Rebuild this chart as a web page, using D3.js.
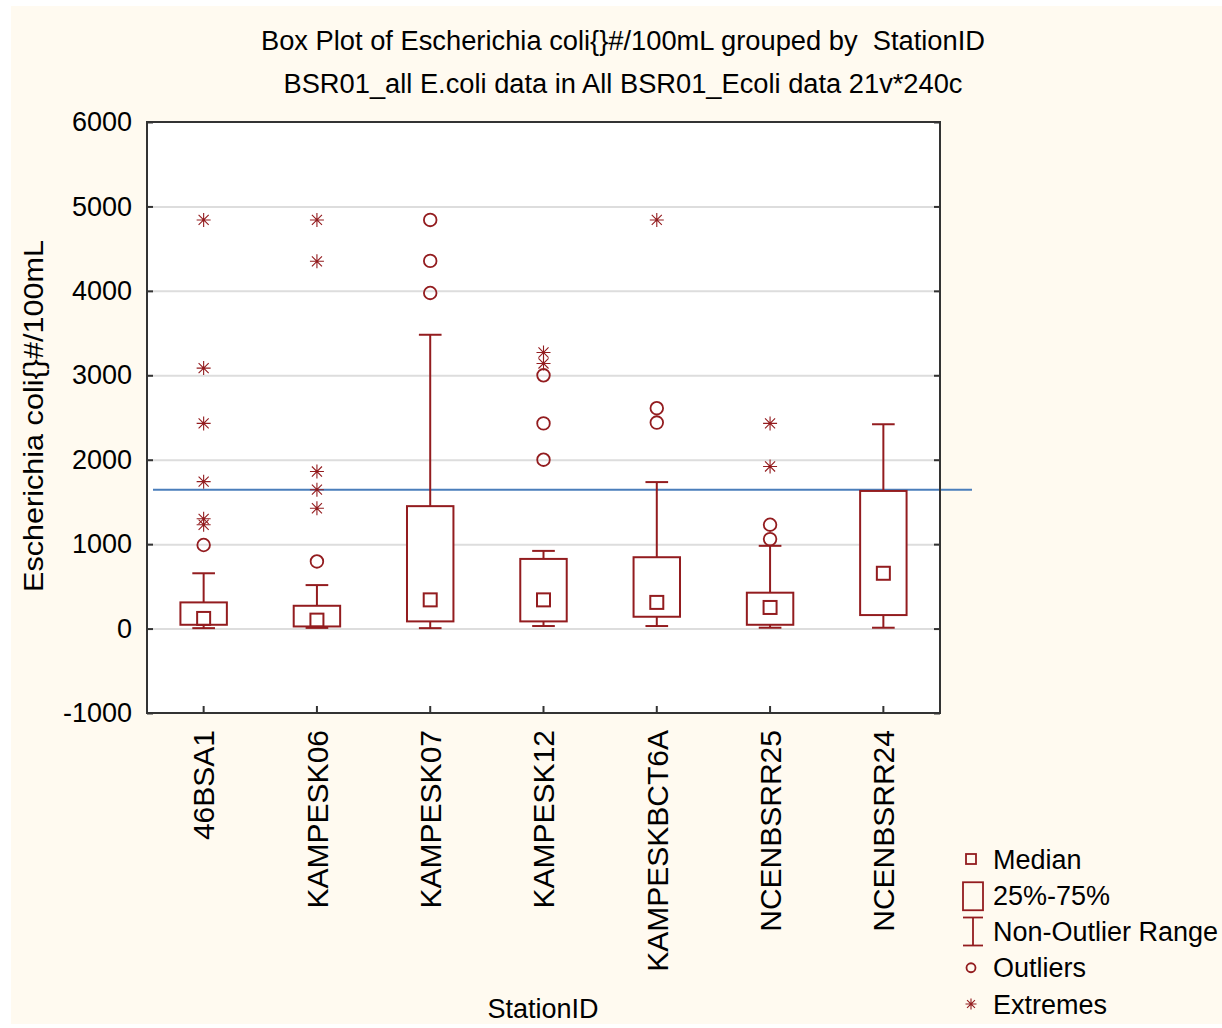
<!DOCTYPE html>
<html>
<head>
<meta charset="utf-8">
<script src="https://cdn.jsdelivr.net/npm/d3@7"></script>
<style>
  body { margin: 0; background: #ffffff; }
  text { font-family: "Liberation Sans", Arial, sans-serif; fill: #000; white-space: pre; }
</style>
</head>
<body>
<svg id="chart" width="1222" height="1028"></svg>
<script>
// ---- data ----
const stations = ["46BSA1", "KAMPESK06", "KAMPESK07", "KAMPESK12", "KAMPESKBCT6A", "NCENBSRR25", "NCENBSRR24"];
const medians     = [120, 100, 340, 340, 310, 250, 655];
const q1          = [45, 25, 85, 85, 140, 45, 160];
const q3          = [310, 270, 1450, 825, 845, 425, 1630];
const whiskerLow  = [5, 8, 5, 30, 30, 10, 10];
const whiskerHigh = [655, 515, 3480, 920, 1735, 980, 2420];
const outliers = [
  [990],
  [795],
  [4840, 4355, 3975],
  [3000, 2430, 2000],
  [2610, 2440],
  [1230, 1060],
  []
];
const extremes = [
  [4840, 3085, 2430, 1740, 1300, 1230],
  [4840, 4350, 1860, 1645, 1425],
  [],
  [3270, 3140],
  [4840],
  [2430, 1920],
  []
];
const referenceLine = 1645;
const yTicks = [-1000, 0, 1000, 2000, 3000, 4000, 5000, 6000];
const legendLabels = ["Median", "25%-75%", "Non-Outlier Range", "Outliers", "Extremes"];
const titleLines = [
  "Box Plot of Escherichia coli{}#/100mL grouped by  StationID",
  "BSR01_all E.coli data in All BSR01_Ecoli data 21v*240c"
];
const xTitle = "StationID";
const yTitle = "Escherichia coli{}#/100mL";

// ---- layout ----
const W = 1222, H = 1028;
const L = 147, R = 940, T = 122, B = 713;
const red = "#931c1f";
const svg = d3.select("#chart");

svg.append("rect").attr("x", 11).attr("y", 6).attr("width", W - 11).attr("height", H - 10)
  .attr("fill", "#fffaf0");
svg.append("rect").attr("x", L).attr("y", T).attr("width", R - L).attr("height", B - T)
  .attr("fill", "#ffffff");

const x = d3.scaleBand().domain(stations).range([L, R]).padding(0);
const y = d3.scaleLinear().domain([-1000, 6000]).range([B, T]);
const cx = s => x(s) + x.bandwidth() / 2;
const fmt = v => (v < 0 ? "-" : "") + Math.abs(v);

// grid
svg.append("g").attr("transform", `translate(${L},0)`)
  .call(d3.axisLeft(y).tickValues(yTicks.filter(v => v > -1000 && v < 6000)).tickSize(-(R - L)).tickFormat(""))
  .call(g => g.select(".domain").remove())
  .call(g => g.selectAll("line").attr("stroke", "#dddddd").attr("stroke-width", 2));

// reference line
svg.append("line")
  .attr("x1", L + 6).attr("x2", 972)
  .attr("y1", y(referenceLine)).attr("y2", y(referenceLine))
  .attr("stroke", "#4a7ebb").attr("stroke-width", 2);

function star(px, py, r) {
  const d = r * 0.72;
  return `M${px - r},${py}H${px + r}M${px},${py - r}V${py + r}` +
    `M${px - d},${py - d}L${px + d},${py + d}M${px - d},${py + d}L${px + d},${py - d}`;
}

// boxes
const bw = x.bandwidth() * 0.41;
const cw = x.bandwidth() * 0.2;
const sw = 2;
stations.forEach((s, i) => {
  const g = svg.append("g").attr("stroke", red).attr("fill", "none").attr("stroke-width", sw);
  const c = cx(s);
  g.append("line").attr("x1", c).attr("x2", c).attr("y1", y(q3[i])).attr("y2", y(whiskerHigh[i]));
  g.append("line").attr("x1", c).attr("x2", c).attr("y1", y(q1[i])).attr("y2", y(whiskerLow[i]));
  g.append("line").attr("x1", c - cw / 2).attr("x2", c + cw / 2).attr("y1", y(whiskerHigh[i])).attr("y2", y(whiskerHigh[i]));
  g.append("line").attr("x1", c - cw / 2).attr("x2", c + cw / 2).attr("y1", y(whiskerLow[i])).attr("y2", y(whiskerLow[i]));
  g.append("rect").attr("x", c - bw / 2).attr("y", y(q3[i])).attr("width", bw).attr("height", y(q1[i]) - y(q3[i]))
    .attr("fill", "#ffffff");
  g.append("rect").attr("x", c - 6.5).attr("y", y(medians[i]) - 6.5).attr("width", 13).attr("height", 13);
  outliers[i].forEach(v => {
    g.append("circle").attr("cx", c).attr("cy", y(v)).attr("r", 6.3).attr("stroke-width", 1.8);
  });
  extremes[i].forEach(v => {
    g.append("path").attr("d", star(c, y(v), 7)).attr("stroke-width", 1.1);
  });
});

// frame
svg.append("rect").attr("x", L).attr("y", T).attr("width", R - L).attr("height", B - T)
  .attr("fill", "none").attr("stroke", "#333333").attr("stroke-width", 2);

// axes
svg.append("g").attr("transform", `translate(${L},0)`)
  .call(d3.axisLeft(y).tickValues(yTicks).tickFormat(fmt).tickSizeInner(-6).tickSizeOuter(0).tickPadding(15))
  .call(g => g.select(".domain").remove())
  .call(g => g.selectAll("line").attr("stroke", "#333").attr("stroke-width", 2))
  .call(g => g.selectAll("text").attr("font-size", 27).attr("font-family", "Liberation Sans, Arial, sans-serif").attr("fill", "#000"));

svg.append("g").attr("transform", `translate(${R},0)`)
  .call(d3.axisRight(y).tickValues(yTicks).tickSizeInner(-6).tickSizeOuter(0).tickFormat(""))
  .call(g => g.select(".domain").remove())
  .call(g => g.selectAll("line").attr("stroke", "#333").attr("stroke-width", 2));

svg.append("g").attr("transform", `translate(0,${B})`)
  .call(d3.axisBottom(x).tickSizeInner(-7).tickSizeOuter(0))
  .call(g => g.select(".domain").remove())
  .call(g => g.selectAll("line").attr("stroke", "#333").attr("stroke-width", 2))
  .call(g => g.selectAll("text")
    .attr("font-size", 30).attr("font-family", "Liberation Sans, Arial, sans-serif").attr("fill", "#000")
    .attr("transform", "rotate(-90)").attr("x", -17).attr("y", 0).attr("dy", "0.36em")
    .style("text-anchor", "end"));

// titles
svg.append("text").attr("x", 623).attr("y", 50).attr("text-anchor", "middle")
  .attr("font-size", 27).attr("textLength", 724).attr("lengthAdjust", "spacingAndGlyphs").text(titleLines[0]);
svg.append("text").attr("x", 623).attr("y", 93).attr("text-anchor", "middle")
  .attr("font-size", 27).attr("textLength", 679).attr("lengthAdjust", "spacingAndGlyphs").text(titleLines[1]);

svg.append("text").attr("x", 543).attr("y", 1018).attr("text-anchor", "middle")
  .attr("font-size", 27).text(xTitle);

svg.append("text").attr("transform", "translate(43,416) rotate(-90)").attr("text-anchor", "middle")
  .attr("font-size", 27).attr("textLength", 352).attr("lengthAdjust", "spacingAndGlyphs").text(yTitle);

// legend
const legY = d3.scalePoint().domain(legendLabels).range([859, 1004]);
const lg = svg.append("g");
legendLabels.forEach((lab, i) => {
  const yy = legY(lab);
  const sg = lg.append("g").attr("stroke", red).attr("fill", "none").attr("stroke-width", 1.8);
  if (i === 0) sg.append("rect").attr("x", 966).attr("y", yy - 5).attr("width", 10).attr("height", 10);
  if (i === 1) sg.append("rect").attr("x", 963).attr("y", yy - 13).attr("width", 20).attr("height", 28);
  if (i === 2) {
    sg.append("line").attr("x1", 973).attr("x2", 973).attr("y1", yy - 14).attr("y2", yy + 14);
    sg.append("line").attr("x1", 963).attr("x2", 983).attr("y1", yy - 14).attr("y2", yy - 14);
    sg.append("line").attr("x1", 963).attr("x2", 983).attr("y1", yy + 14).attr("y2", yy + 14);
  }
  if (i === 3) sg.append("circle").attr("cx", 971).attr("cy", yy).attr("r", 4.5);
  if (i === 4) sg.append("path").attr("d", star(971, yy, 5.5)).attr("stroke-width", 1.1);
  lg.append("text").attr("x", 993).attr("y", yy).attr("dy", "0.36em").attr("font-size", 27).text(lab);
});
</script>
</body>
</html>
